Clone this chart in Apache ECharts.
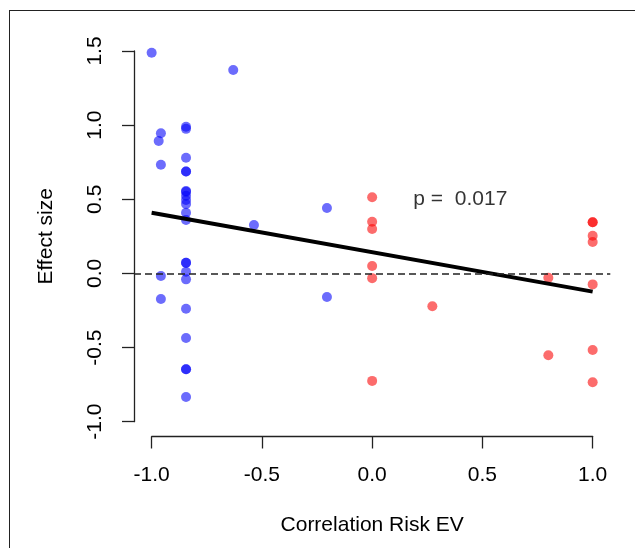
<!DOCTYPE html>
<html><head><meta charset="utf-8">
<script src="https://cdn.jsdelivr.net/npm/echarts@6/dist/echarts.min.js"></script>
<style>
html,body{margin:0;padding:0;background:#fff;overflow:hidden;}
#frame{position:absolute;left:9px;top:10px;width:700px;height:700px;border:1.5px solid #222;box-sizing:border-box;}
#chart{position:absolute;left:0;top:0;width:635px;height:548px;}
</style></head>
<body>
<div id="frame"></div>
<div id="chart"></div>
<script>
// Data
const blueX = [-1.0, -0.63, -0.958, -0.968, -0.958, -0.958, -0.958,
  -0.844, -0.844, -0.844, -0.844, -0.844, -0.844, -0.844, -0.844, -0.844, -0.844, -0.844, -0.844,
  -0.844, -0.844, -0.844, -0.844, -0.844, -0.844, -0.844, -0.844, -0.844,
  -0.536, -0.205, -0.205];
const blueY = [1.488, 1.372, 0.945, 0.893, 0.733, -0.018, -0.173,
  0.989, 0.975, 0.780, 0.688, 0.688, 0.556, 0.550, 0.524, 0.495, 0.468, 0.409, 0.360,
  0.072, 0.072, 0.011, -0.040, -0.238, -0.436, -0.647, -0.647, -0.833,
  0.326, 0.441, -0.159];
const redX = [0, 0, 0, 0, 0, 0, 0.273, 0.799, 0.799, 1, 1, 1, 1, 1, 1, 1];
const redY = [0.514, 0.348, 0.299, 0.050, -0.032, -0.725, -0.222, -0.029, -0.552,
  0.345, 0.345, 0.254, 0.212, -0.074, -0.517, -0.734];
const fitX = [-1, 1];
const fitY = [0.409, -0.123];
const pLabel = 'p =  0.017';
const pPos = [0.4, 0.5];
const xTitle = 'Correlation Risk EV';
const yTitle = 'Effect size';

const font = 'Liberation Sans, Arial, sans-serif';
const fs = 21;
const zip = (a, b) => a.map((v, i) => [v, b[i]]);

const chart = echarts.init(document.getElementById('chart'), null, {renderer: 'canvas'});
chart.setOption({
  animation: false,
  textStyle: {fontFamily: font},
  grid: [
    {left: 134, right: 24.7, top: 36.2, bottom: 111.5},
    {left: 151.7, right: 42.3, top: 36.2, bottom: 111.5},
    {left: 134, right: 24.7, top: 51, bottom: 126.3}
  ],
  xAxis: [
    {gridIndex: 0, type: 'value', min: -1.08, max: 1.08, show: true,
     axisLine: {show: false}, axisTick: {show: false}, axisLabel: {show: false}, splitLine: {show: false},
     name: xTitle, nameLocation: 'middle', nameGap: 78,
     nameTextStyle: {fontSize: fs, color: '#000', fontFamily: font}},
    {gridIndex: 1, type: 'value', min: -1, max: 1, interval: 0.5,
     axisLine: {show: true, lineStyle: {color: '#222', width: 1.3}},
     axisTick: {show: true, inside: false, length: 12, lineStyle: {color: '#222', width: 1.3}},
     axisLabel: {fontSize: fs, color: '#000', margin: 28, fontFamily: font,
       formatter: v => v.toFixed(1)},
     splitLine: {show: false}},
    {gridIndex: 2, type: 'value', show: false}
  ],
  yAxis: [
    {gridIndex: 0, type: 'value', min: -1.1, max: 1.6, show: true,
     axisLine: {show: false}, axisTick: {show: false}, axisLabel: {show: false}, splitLine: {show: false},
     name: yTitle, nameLocation: 'middle', nameGap: 77,
     nameTextStyle: {fontSize: fs, color: '#000', fontFamily: font}},
    {gridIndex: 1, type: 'value', show: false},
    {gridIndex: 2, type: 'value', min: -1, max: 1.5, interval: 0.5,
     axisLine: {show: true, lineStyle: {color: '#222', width: 1.3}},
     axisTick: {show: true, inside: false, length: 12, lineStyle: {color: '#222', width: 1.3}},
     axisLabel: {fontSize: fs, color: '#000', margin: 28, rotate: 90, fontFamily: font,
       formatter: v => v.toFixed(1)},
     splitLine: {show: false}}
  ],
  series: [
    {type: 'scatter', xAxisIndex: 0, yAxisIndex: 0, symbolSize: 10, z: 2,
     itemStyle: {color: 'rgba(0,0,250,0.72)'}, data: zip(blueX, blueY),
     markLine: {silent: true, symbol: 'none', label: {show: false},
       lineStyle: {color: '#222', type: [7, 4], width: 1.5},
       data: [{yAxis: 0}]}},
    {type: 'scatter', xAxisIndex: 0, yAxisIndex: 0, symbolSize: 10, z: 2,
     itemStyle: {color: 'rgba(250,0,0,0.72)'}, data: zip(redX, redY)},
    {type: 'line', xAxisIndex: 0, yAxisIndex: 0, symbol: 'none', z: 3,
     lineStyle: {color: '#000', width: 4}, data: zip(fitX, fitY)},
    {type: 'scatter', xAxisIndex: 0, yAxisIndex: 0, symbolSize: 0, z: 4,
     data: [pPos],
     label: {show: true, position: 'inside', formatter: pLabel, fontSize: fs, color: '#000', fontFamily: font}}
  ]
});
</script>
</body></html>
